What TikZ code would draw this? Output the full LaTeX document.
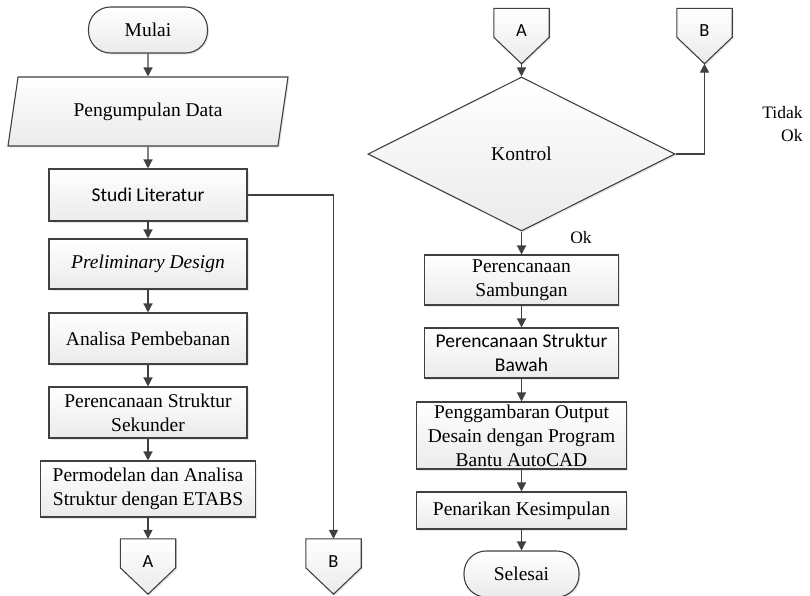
\documentclass[tikz,border=0pt]{standalone}
\usepackage{fontspec}
\setmainfont{Liberation Serif}
\newfontfamily\calibri{Carlito}
\usetikzlibrary{arrows.meta,shapes.geometric,backgrounds,shadows}

\definecolor{edge}{HTML}{404040}
\tikzset{
  box/.style={rectangle, draw=edge, line width=1.1pt, top color=white, bottom color=black!8,
    drop shadow={opacity=0.18, shadow xshift=1.5pt, shadow yshift=-1.5pt},
    align=center, inner sep=1pt, font=\fontsize{19.5}{24}\selectfont},
  term/.style={box, rounded corners=22pt},
  flow/.style={draw=edge, line width=1.3pt, -{Triangle[length=9pt,width=9pt]}},
  offpage/.style={rectangle, minimum width=55pt, minimum height=55pt, inner sep=0pt,
    text height=13pt, text depth=12pt, font=\calibri\fontsize{18.5}{22}\selectfont},
  note/.style={inner sep=0pt, font=\fontsize{17.5}{23}\selectfont},
}

\begin{document}
\begin{tikzpicture}[x=1pt,y=-1pt]
  \useasboundingbox (0,0) rectangle (810,595);

  % left column
  \node[term, minimum width=119pt, minimum height=46pt] (start) at (148,30) {Mulai};
  \node[box, trapezium, trapezium left angle=63, trapezium right angle=117,
    trapezium stretches body, minimum width=280pt, minimum height=69pt] (data) at (148,111.5) {Pengumpulan Data};
  \node[box, minimum width=198pt, minimum height=52pt, font=\calibri\fontsize{19.5}{24}\selectfont] (studi) at (148,195) {Studi Literatur};
  \node[box, minimum width=198pt, minimum height=50pt, font=\itshape\fontsize{19.5}{24}\selectfont] (prelim) at (148,264) {Preliminary Design};
  \node[box, minimum width=198pt, minimum height=51pt] (beban) at (148,338.5) {Analisa Pembebanan};
  \node[box, minimum width=198pt, minimum height=51pt] (sekunder) at (148,412.5) {Perencanaan Struktur\\Sekunder};
  \node[box, minimum width=215pt, minimum height=56pt] (etabs) at (148,489) {Permodelan dan Analisa\\Struktur dengan ETABS};

  % off-page connectors
  \foreach \n/\x/\y/\t in {A1/148/566.5/A, B1/333.5/566.5/B, A2/521.5/36/A, B2/704.5/36/B}{
    \node[offpage] (\n) at (\x,\y) {\t};
    \begin{pgfonlayer}{background}
      \draw[draw=edge, line width=1.1pt, top color=white, bottom color=black!8,
        drop shadow={opacity=0.18, shadow xshift=1.5pt, shadow yshift=-1.5pt}]
        (\n.north west) -- (\n.north east) -- ([yshift=-29pt]\n.north east)
        -- (\n.south) -- ([yshift=-29pt]\n.north west) -- cycle;
    \end{pgfonlayer}
  }

  % right column
  \node[box, diamond, aspect=2, inner sep=0pt, minimum width=307pt, minimum height=154pt] (kontrol) at (521.5,154) {Kontrol};
  \node[box, minimum width=194pt, minimum height=50pt] (sambungan) at (521.5,280) {Perencanaan\\Sambungan};
  \node[box, minimum width=194pt, minimum height=50pt, font=\calibri\fontsize{19.5}{24}\selectfont] (bawah) at (521.5,353) {Perencanaan Struktur\\Bawah};
  \node[box, minimum width=210pt, minimum height=67pt] (gambar) at (521.5,435.5) {Penggambaran Output\\Desain dengan Program\\Bantu AutoCAD};
  \node[box, minimum width=210pt, minimum height=37pt] (simpul) at (521.5,510.5) {Penarikan Kesimpulan};
  \node[term, minimum width=115pt, minimum height=46pt] (selesai) at (521.5,574) {Selesai};

  \node[note, align=right] (tidak) at (782.5,124) {Tidak\\Ok};
  \node[note] (ok) at (581,238) {Ok};

  % connectors
  \draw[flow] (start) -- (data);
  \draw[flow] (data) -- (studi);
  \draw[flow] (studi) -- (prelim);
  \draw[flow] (prelim) -- (beban);
  \draw[flow] (beban) -- (sekunder);
  \draw[flow] (sekunder) -- (etabs);
  \draw[flow] (etabs) -- (A1);
  \draw[flow] (studi.east) -| (B1.north);
  \draw[flow] (A2) -- (kontrol);
  \draw[flow] (kontrol.east) -| (B2.south);
  \draw[flow] (kontrol) -- (sambungan);
  \draw[flow] (sambungan) -- (bawah);
  \draw[flow] (bawah) -- (gambar);
  \draw[flow] (gambar) -- (simpul);
  \draw[flow] (simpul) -- (selesai);
\end{tikzpicture}
\end{document}
